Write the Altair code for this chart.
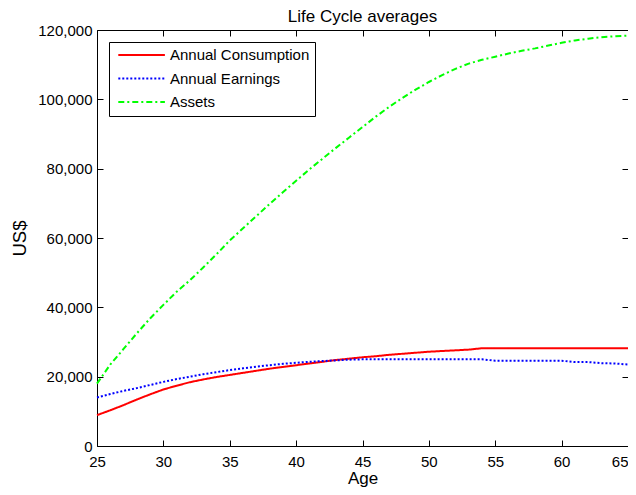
import altair as alt
import pandas as pd

ages = list(range(25, 66))

# values in thousands of US$
consumption = [8.9, 10.3, 11.8, 13.4, 14.9, 16.3, 17.4, 18.4, 19.2, 19.9,
               20.5, 21.1, 21.7, 22.3, 22.8, 23.3, 23.8, 24.3, 24.8, 25.2,
               25.6, 25.9, 26.3, 26.6, 26.9, 27.2, 27.4, 27.6, 27.8, 28.2,
               28.2, 28.2, 28.2, 28.2, 28.2, 28.2, 28.2, 28.2, 28.2, 28.2, 28.2]
earnings = [14.0, 15.0, 15.9, 16.7, 17.6, 18.5, 19.3, 20.0, 20.7, 21.3,
            21.9, 22.4, 22.9, 23.3, 23.7, 24.0, 24.3, 24.5, 24.7, 24.9,
            25.0, 25.0, 25.0, 25.0, 25.0, 25.0, 25.0, 25.0, 25.0, 25.0,
            24.6, 24.6, 24.6, 24.6, 24.6, 24.6, 24.2, 24.2, 23.9, 23.8, 23.5]
assets = [18.0, 23.5, 28.0, 32.5, 36.8, 40.7, 44.5, 47.8, 51.5, 55.3,
          59.3, 62.8, 66.3, 69.8, 73.2, 76.5, 79.8, 82.9, 86.0, 89.0,
          92.0, 95.0, 97.8, 100.4, 102.8, 105.0, 107.0, 108.8, 110.3, 111.4,
          112.3, 113.2, 114.0, 114.7, 115.5, 116.3, 117.0, 117.5, 117.9, 118.2, 118.4]

series_names = ["Annual Consumption", "Annual Earnings", "Assets"]
series_colors = ["#ff0000", "#0000ff", "#00ff00"]
series_dashes = [[1, 0], [2, 2], [6, 3, 2, 3]]

x_ticks = [25, 30, 35, 40, 45, 50, 55, 60, 65]
y_ticks = [0, 20000, 40000, 60000, 80000, 100000, 120000]

rows = []
for name, vals in zip(series_names, [consumption, earnings, assets]):
    for a, v in zip(ages, vals):
        rows.append({"Age": a, "Value": v * 1000, "Series": name})
df = pd.DataFrame(rows)

W, H = 531, 416
FONT = "Liberation Sans"

xscale = alt.Scale(domain=[25, 65], nice=False, zero=False)
yscale = alt.Scale(domain=[0, 120000], nice=False)

legend_kw = dict(
    title=None, orient="none", legendX=12, legendY=12,
    strokeColor="#000000", fillColor="#ffffff", padding=5.5,
    symbolType="M-0.57,0L6.6,0", symbolSize=169, symbolStrokeWidth=2,
    labelFontSize=15, labelFont=FONT, labelColor="#000000",
    rowPadding=7.5, labelOffset=40.5, cornerRadius=0,
)

main = alt.Chart(df).mark_line(strokeWidth=2).encode(
    x=alt.X("Age:Q", scale=xscale,
            axis=alt.Axis(orient="bottom", values=x_ticks, ticks=False, domain=False,
                          grid=False, labelPadding=8, title="Age", titlePadding=1,
                          labelFontSize=15, titleFontSize=17, titleFontWeight="normal",
                          labelFont=FONT, titleFont=FONT, labelColor="#000", titleColor="#000",
                          labelFlush=False,
                          labelAlign=alt.ExprRef("datum.value >= 65 ? 'right' : 'center'"))),
    y=alt.Y("Value:Q", scale=yscale,
            axis=alt.Axis(orient="left", values=y_ticks, format=",d", ticks=False, domain=False,
                          grid=False, labelPadding=5, title="US$", titlePadding=8,
                          labelFontSize=15, titleFontSize=18.5, titleFontWeight="normal",
                          labelFont=FONT, titleFont=FONT, labelColor="#000", titleColor="#000")),
    color=alt.Color("Series:N", scale=alt.Scale(domain=series_names, range=series_colors),
                    legend=alt.Legend(**legend_kw)),
    strokeDash=alt.StrokeDash("Series:N", scale=alt.Scale(domain=series_names, range=series_dashes),
                              legend=alt.Legend(**legend_kw)),
    detail="Series:N",
)

def tick_axis(orient, vals, offset):
    return alt.Axis(orient=orient, values=vals, labels=False, domain=False, grid=False,
                    title=None, ticks=True, tickSize=6, tickColor="#000", tickWidth=1,
                    offset=offset)

ticks_a = alt.Chart(df).mark_line(strokeOpacity=0).encode(
    x=alt.X("Age:Q", scale=xscale, axis=tick_axis("top", x_ticks, -H)),
    y=alt.Y("Value:Q", scale=yscale, axis=tick_axis("right", y_ticks, -W)),
    detail="Series:N",
)
ticks_b = alt.Chart(df).mark_line(strokeOpacity=0).encode(
    x=alt.X("Age:Q", scale=xscale, axis=tick_axis("bottom", x_ticks, -H)),
    y=alt.Y("Value:Q", scale=yscale, axis=tick_axis("left", y_ticks, -W)),
    detail="Series:N",
)

chart = alt.layer(main, ticks_a, ticks_b).resolve_axis(
    x="independent", y="independent"
).properties(
    width=W, height=H,
    title=alt.TitleParams("Life Cycle averages", fontSize=17, font=FONT,
                          fontWeight="normal", color="#000", offset=4, dy=7, anchor="middle"),
    autosize=alt.AutoSizeParams(type="none"),
    padding={"left": 89, "top": 22, "right": 0, "bottom": 41},
    background="#ffffff",
).configure_view(stroke="#000000", strokeWidth=1)

chart.save("out.html", embed_options={"renderer": "svg", "actions": False})
